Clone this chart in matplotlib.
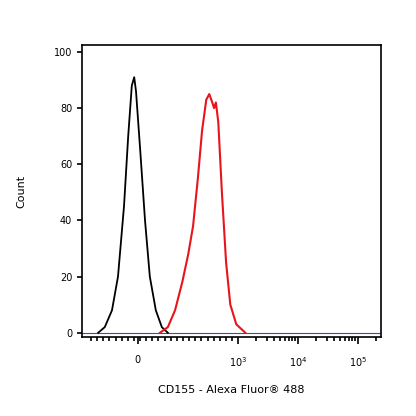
import matplotlib
matplotlib.use("Agg")
import matplotlib.pyplot as plt
import numpy as np

# x positions in "decade" display units (10^3 -> 3, 10^4 -> 4, 0 -> 1.33)
black_x = [0.67, 0.78, 0.90, 1.00, 1.10, 1.17, 1.23, 1.27, 1.30, 1.37, 1.45, 1.53, 1.63, 1.73, 1.83]
black_y = [0, 2, 8, 20, 45, 70, 88, 91, 86, 65, 40, 20, 8, 2, 0]
red_x = [1.70, 1.83, 1.95, 2.07, 2.17, 2.25, 2.33, 2.40, 2.47, 2.52, 2.57, 2.60, 2.63, 2.67, 2.73, 2.80, 2.87, 2.97, 3.12]
red_y = [0, 2, 8, 18, 28, 38, 55, 72, 83, 85, 82, 80, 82, 75, 50, 25, 10, 3, 0]
xtick_pos = [1.33, 3, 4, 5]
xtick_labels = ["0", r"$10^3$", r"$10^4$", r"$10^5$"]
yticks = [0, 20, 40, 60, 80, 100]

fig = plt.figure(figsize=(4.16, 4.16), dpi=100)
ax = fig.add_axes([0.197, 0.19, 0.719, 0.702])
ax.plot([0.4, 5.38], [0, 0], color="#3050c0", lw=0.8)
ax.plot(black_x, black_y, color="black", lw=1.3)
ax.plot(red_x, red_y, color="#e8141c", lw=1.5)
ax.set_xlim(0.4, 5.38)
ax.set_ylim(-1.5, 102.5)
ax.set_yticks(yticks)
ax.set_xticks(xtick_pos)
ax.set_xticklabels(xtick_labels)
minor = []
for d in range(3, 6):
    minor += [d + np.log10(k) for k in range(2, 10)]
minor += list(np.linspace(0.55, 2.9, 24))
ax.set_xticks([m for m in minor if m < 5.38], minor=True)
ax.tick_params(axis="both", labelsize=7, direction="out", width=1.2)
ax.tick_params(axis="x", which="major", length=5, pad=8)
ax.tick_params(axis="x", which="minor", length=3, width=1.2)
for s in ax.spines.values():
    s.set_linewidth(1.2)
ax.set_xlabel("CD155 - Alexa Fluor\u00ae 488", fontsize=8, labelpad=12)
ax.set_ylabel("Count", fontsize=8, labelpad=20)
fig.savefig("out.png", dpi=100)
